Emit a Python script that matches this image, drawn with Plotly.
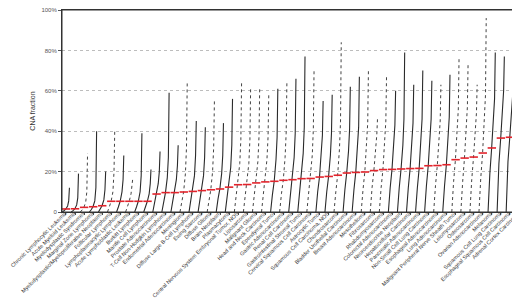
import plotly.graph_objects as go

categories = [
    "Chronic Lymphocytic Leukemia", "Acute Myeloid Leukemia", "Myelodysplastic Syndromes",
    "Marginal Zone Lymphoma", "Myelodysplastic/Myeloproliferative Neoplasms", "Follicular Lymphoma",
    "Lymphoplasmacytic Lymphoma", "Acute Lymphoblastic Leukemia", "Burkitt Lymphoma",
    "Mantle Cell Lymphoma", "Prostate Adenocarcinoma", "T-Cell Non-Hodgkin Lymphoma",
    "Endometrial Adenocarcinoma", "Meningioma", "Diffuse Large B-Cell Lymphoma", "Ewing Sarcoma",
    "Diffuse Glioma", "Brain Neoplasm", "Plasmacytoma", "Central Nervous System Embryonal Tumor, NOS",
    "Liposarcoma", "Malignant Glioma", "Head and Neck Carcinoma", "Ependymal Tumor",
    "Gastric Adenocarcinoma", "Renal Cell Carcinoma", "Gastrointestinal Stromal Tumor",
    "Cervical Squamous Cell Carcinoma", "Astrocytic Tumor", "Squamous Cell Carcinoma, NOS",
    "Chondrosarcoma", "Bladder Urothelial Carcinoma", "Breast Adenocarcinoma", "Mesothelioma",
    "Fibrosarcoma", "Rhabdomyosarcoma", "Colorectal Adenocarcinoma", "Neuroendocrine Neoplasm",
    "Hepatocellular Carcinoma", "Pancreatic Adenocarcinoma", "Non-Small Cell Lung Carcinoma",
    "Esophageal Adenocarcinoma", "Lung Adenocarcinoma", "Malignant Peripheral Nerve Sheath Tumor",
    "Leiomyosarcoma", "Osteosarcoma", "Ovarian Adenocarcinoma", "Melanoma",
    "Squamous Cell Lung Carcinoma", "Esophageal Squamous Cell Carcinoma", "Adrenal Cortex Carcinoma",
]

# quantiles of CNA fraction (%) per cancer type
q_min = [0] * 51
q10 = [0.2, 0.2, 0.3, 0.3, 0.5, 0.8, 0.8, 1, 0.8, 1, 2, 2, 2, 2, 2.5, 2.5, 2.5, 3, 3, 3, 3, 3.5, 3.5, 4, 4,
       4, 4, 4, 5, 5, 5, 5, 5.5, 5.5, 6, 6, 6, 6, 6, 6, 7, 7, 7, 8, 8, 8, 9, 10, 13, 14, 15]
q25 = [0.6, 0.7, 1, 1.1, 1.5, 2.5, 2.5, 3, 2.5, 2.8, 4.5, 5, 5, 5, 5.5, 5.5, 6, 6.5, 7, 7.5, 7.5, 8, 8, 8.5, 9,
       9, 9, 9, 10, 10, 10, 11, 11, 11, 12, 12, 12, 12, 12, 12, 13, 13, 13, 15, 15, 16, 17, 19, 24, 25, 30]
median = [1.5, 1.6, 2.3, 2.6, 3.1, 5.3, 5.3, 5.3, 5.3, 5.3, 8.9, 9.6, 9.6, 9.9, 10.2, 10.6, 11, 11.4, 12.3,
          13.5, 13.6, 14.4, 14.9, 15.2, 15.7, 16, 16.5, 16.6, 17.3, 17.6, 18.2, 19.3, 19.6, 19.8, 20.5, 21,
          21.1, 21.3, 21.5, 21.6, 22.9, 23, 23.4, 25.9, 26.7, 27.2, 29.2, 31.7, 36.6, 37, 45.2]
q75 = [3, 3.5, 5, 5.5, 6, 10, 10, 9, 10, 9, 14, 17, 16, 19, 18, 18, 20, 19, 22, 24, 24, 25, 26, 26, 27,
       27, 29, 28, 28, 28, 31, 30, 31, 32, 30, 33, 32, 33, 33, 34, 35, 35, 36, 39, 40, 39, 44, 45, 49, 48, 60]
q90 = [5.5, 7, 10, 12, 11, 20, 16, 13, 18, 14, 20, 27, 23, 32, 28, 27, 32, 28, 33, 36, 36, 37, 37, 37, 39,
       39, 42, 41, 38, 39, 45, 41, 42, 44, 38, 45, 43, 46, 44, 46, 46, 45, 47, 51, 52, 49, 58, 56, 60, 58, 75]
q_max = [12, 19, 29, 40, 20, 40, 28, 17, 39, 21, 30, 59, 33, 64, 45, 42, 55, 44, 56, 64, 62, 62, 58, 61, 64,
         66, 77, 71, 55, 58, 84, 62, 67, 70, 46, 68, 60, 79, 63, 70, 65, 63, 68, 76, 74, 63, 96, 79, 77, 71, 95]
sparse = [0, 0, 1, 0, 0, 1, 0, 1, 0, 0, 0, 0, 0, 1, 0, 0, 1, 0, 0, 1, 1, 1, 1, 0, 1,
          0, 0, 1, 0, 0, 1, 0, 0, 1, 1, 1, 0, 0, 0, 0, 0, 1, 0, 1, 1, 1, 1, 0, 0, 0, 1]
fractions = [0, 0.1, 0.25, 0.5, 0.75, 0.9, 1.0]

qs = [q_min, q10, q25, median, q75, q90, q_max]
dense_x, dense_y, sparse_x, sparse_y = [], [], [], []
for i in range(len(categories)):
    pos = i + 1
    xs = [pos - 0.42 + 0.8 * f for f in fractions]
    ys = [q[i] for q in qs]
    if sparse[i]:
        sparse_x += xs + [None]
        sparse_y += ys + [None]
    else:
        dense_x += xs + [None]
        dense_y += ys + [None]

fig = go.Figure()
fig.add_trace(go.Scatter(x=dense_x, y=dense_y, mode="lines",
                         line=dict(color="#2a2a2a", width=1.1), hoverinfo="skip"))
fig.add_trace(go.Scatter(x=sparse_x, y=sparse_y, mode="lines",
                         line=dict(color="#444444", width=1, dash="dot"), hoverinfo="skip"))
fig.add_trace(go.Scatter(x=list(range(1, len(categories) + 1)), y=median, mode="markers",
                         marker=dict(symbol="line-ew", size=6,
                                     line=dict(color="#e2232b", width=1.6)),
                         hoverinfo="skip"))

font = "Liberation Sans, Arial, Helvetica, sans-serif"
fig.update_layout(
    template="none",
    width=520, height=302,
    margin=dict(l=54, r=2, t=2, b=98, autoexpand=False),
    plot_bgcolor="white", paper_bgcolor="white",
    showlegend=False,
    font=dict(family=font, color="#333333"),
    xaxis=dict(range=[0.56, 51.77], tickmode="array", automargin=False,
               tickvals=list(range(1, len(categories) + 1)), ticktext=categories,
               tickangle=-45, tickfont=dict(size=5.5, color="#3a3a3a"),
               ticklabeloverflow="allow", ticklabelstandoff=-7, ticklabelshift=-1,
               showgrid=False, zeroline=False, showline=True, linecolor="#333333",
               linewidth=1, mirror=True, ticks="outside", ticklen=2, tickcolor="#555555"),
    yaxis=dict(range=[0, 100], tickmode="array", tickvals=[0, 20, 40, 60, 80, 100], automargin=False,
               ticktext=["0", "20%", "40%", "60%", "80%", "100%"],
               tickfont=dict(size=6, color="#555555"), ticklabeloverflow="allow",
               title=dict(text="CNA fraction", font=dict(size=7, color="#333333"), standoff=4),
               showgrid=True, gridcolor="#bdbdbd", griddash="dot", gridwidth=1,
               zeroline=False, showline=True, linecolor="#333333", linewidth=1, mirror=True,
               ticks="outside", ticklen=3, tickcolor="#555555"),
    shapes=[dict(type="rect", xref="paper", yref="paper", x0=0, x1=1, y0=0, y1=1,
                 line=dict(color="#333333", width=1), layer="above")],
)
fig.write_html("out.html")
